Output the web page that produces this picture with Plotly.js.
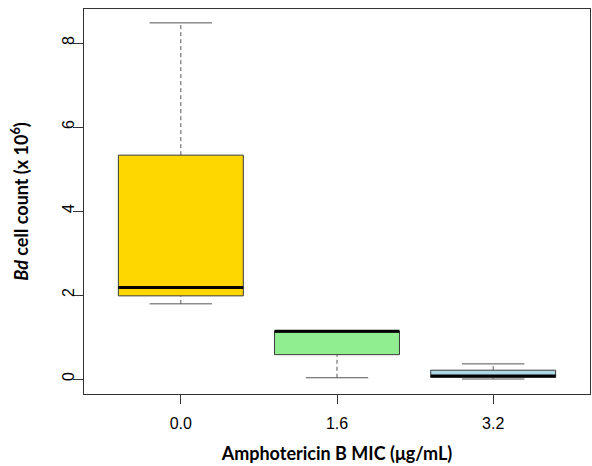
<!DOCTYPE html>
<html>
<head>
<meta charset="utf-8">
<script src="https://cdn.plot.ly/plotly-3.0.1.min.js"></script>
<style>html,body{margin:0;padding:0;background:#fff;}#chart{width:592px;height:466px;}</style>
</head>
<body>
<div id="chart"></div>
<script>
const categories = ['0.0', '1.6', '3.2'];
const positions = [1, 2, 3];
const lowerWhisker = [1.79, 0.03, 0.0];
const q1Values = [1.98, 0.58, 0.04];
const medianValues = [2.18, 1.14, 0.07];
const q3Values = [5.33, 1.14, 0.21];
const upperWhisker = [8.48, 1.14, 0.36];
const fillColors = ['#FFD700', '#90EE90', '#ADD8E6'];

const traces = [];
const outline = '#3a3a3a';
for (let i = 0; i < categories.length; i++) {
  traces.push({
    type: 'box', x: [positions[i]], q1: [q1Values[i]], median: [medianValues[i]],
    q3: [q3Values[i]], lowerfence: [q1Values[i]], upperfence: [q3Values[i]],
    width: 0.8, fillcolor: fillColors[i], line: {color: outline, width: 1},
    whiskerwidth: 0, boxpoints: false, hoverinfo: 'skip', showlegend: false
  });
}
for (let i = 0; i < categories.length; i++) {
  const p = positions[i];
  const dash = {color: '#555', width: 1, dash: '4px,3px'};
  const solid = {color: '#555', width: 1};
  if (upperWhisker[i] > q3Values[i]) {
    traces.push({type: 'scatter', mode: 'lines', x: [p, p], y: [q3Values[i], upperWhisker[i]], line: dash, showlegend: false, hoverinfo: 'skip'});
    traces.push({type: 'scatter', mode: 'lines', x: [p - 0.2, p + 0.2], y: [upperWhisker[i], upperWhisker[i]], line: solid, showlegend: false, hoverinfo: 'skip'});
  }
  if (lowerWhisker[i] < q1Values[i]) {
    traces.push({type: 'scatter', mode: 'lines', x: [p, p], y: [lowerWhisker[i], q1Values[i]], line: dash, showlegend: false, hoverinfo: 'skip'});
    traces.push({type: 'scatter', mode: 'lines', x: [p - 0.2, p + 0.2], y: [lowerWhisker[i], lowerWhisker[i]], line: solid, showlegend: false, hoverinfo: 'skip'});
  }
  traces.push({type: 'scatter', mode: 'lines', x: [p - 0.4, p + 0.4], y: [medianValues[i], medianValues[i]], line: {color: '#000', width: 3}, showlegend: false, hoverinfo: 'skip'});
}

const layout = {
  width: 592, height: 466,
  margin: {l: 84, r: 2, t: 9, b: 72},
  paper_bgcolor: '#fff', plot_bgcolor: '#fff',
  font: {family: 'Liberation Sans, Arial, sans-serif', size: 16, color: '#000'},
  xaxis: {
    range: [0.38, 3.62], tickvals: positions, ticktext: categories,
    showgrid: false, zeroline: false, showline: true, mirror: true, linecolor: '#333', linewidth: 1,
    ticks: 'outside', ticklen: 9, tickcolor: '#333', ticklabelstandoff: 6,
    title: {text: '<b>Amphotericin B MIC (μg/mL)</b>', font: {family: 'Lato, Open Sans, sans-serif', size: 18}, standoff: 16}
  },
  yaxis: {
    range: [-0.357, 8.81], tickvals: [0, 2, 4, 6, 8], ticktext: ['0', '2', '4', '6', '8'], tickangle: -90,
    showgrid: false, zeroline: false, showline: true, mirror: true, linecolor: '#333', linewidth: 1,
    ticks: 'outside', ticklen: 10, tickcolor: '#333', ticklabelstandoff: -7,
    title: {text: '<b><i>Bd</i> cell count (x 10<sup>6</sup>)</b>', font: {family: 'Lato, Open Sans, sans-serif', size: 18}, standoff: 26}
  }
};
Plotly.newPlot('chart', traces, layout, {staticPlot: true});
</script>
</body>
</html>
